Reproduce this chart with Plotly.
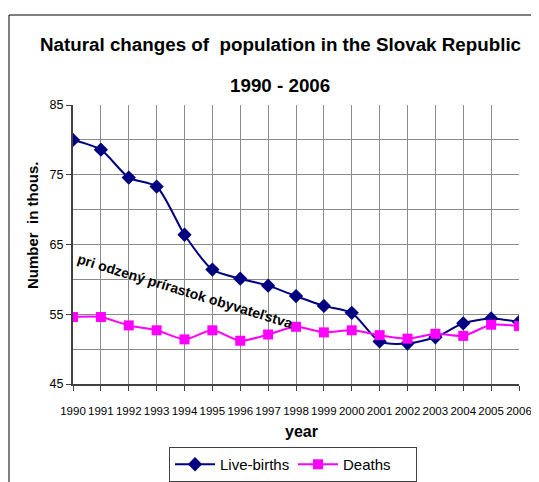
import plotly.graph_objects as go

years = list(range(1990, 2007))
live_births = [80.0, 78.6, 74.6, 73.3, 66.4, 61.4, 60.1, 59.1, 57.6, 56.2, 55.2, 51.1, 50.8, 51.7, 53.7, 54.4, 53.9]
deaths = [54.6, 54.6, 53.4, 52.7, 51.4, 52.7, 51.2, 52.1, 53.2, 52.4, 52.7, 52.0, 51.5, 52.2, 51.9, 53.5, 53.3]
y_ticks = [45, 55, 65, 75, 85]

OFF = 8  # page body margin
W, H = 539 - OFF, 482 - OFF
ML, MT = 73 - OFF, 105 - OFF
MR = W - (519 - OFF)
MB = H - (384 - OFF)
PW, PH = W - ML - MR, H - MT - MB

def px_x(p):
    return (p - OFF - ML) / PW

def px_y(p):
    return (H - MB - (p - OFF)) / PH

FONT = "Liberation Sans, Arial, sans-serif"

fig = go.Figure()
fig.add_trace(go.Scatter(
    x=years, y=live_births, name="Live-births", mode="lines+markers",
    line=dict(color="#000080", width=2, shape="spline", smoothing=0.7),
    marker=dict(symbol="diamond", size=11, color="#000080"),
))
fig.add_trace(go.Scatter(
    x=years, y=deaths, name="Deaths", mode="lines+markers",
    line=dict(color="#FF00FF", width=2, shape="spline", smoothing=0.7),
    marker=dict(symbol="square", size=10, color="#FF00FF"),
))

fig.update_layout(
    width=W, height=H,
    margin=dict(l=ML, r=MR, t=MT, b=MB, autoexpand=False),
    paper_bgcolor="white", plot_bgcolor="white",
    font=dict(family=FONT, color="black", size=12),
    showlegend=True,
    legend=dict(
        orientation="h", x=px_x(293), xanchor="center", y=px_y(447), yanchor="top",
        bordercolor="#404040", borderwidth=1, font=dict(size=15, family=FONT),
        itemwidth=40, tracegroupgap=0, entrywidth=68,
    ),
    xaxis=dict(
        range=[1990, 2006], tickmode="array", tickvals=years,
        ticktext=[str(y) for y in years], tickangle=0,
        showgrid=True, gridcolor="#8a8a8a", gridwidth=1,
        showline=True, linecolor="#404040", linewidth=2,
        ticks="outside", ticklen=5, tickcolor="#404040",
        tickfont=dict(size=11.5, family=FONT), ticklabelstandoff=10,
        zeroline=False, fixedrange=True,
    ),
    yaxis=dict(
        range=[45, 85], tickmode="array", tickvals=y_ticks,
        showgrid=True, gridcolor="#8a8a8a", gridwidth=1,
        minor=dict(dtick=5, tick0=45, showgrid=True, gridcolor="#8a8a8a", gridwidth=1),
        showline=True, linecolor="#404040", linewidth=2,
        ticks="outside", ticklen=5, tickcolor="#404040",
        tickfont=dict(size=12.5, family=FONT),
        zeroline=False, fixedrange=True,
    ),
    annotations=[
        dict(text="<b>Natural changes of  population in the Slovak Republic</b>",
             xref="paper", yref="paper", x=px_x(280), y=px_y(45),
             xanchor="center", yanchor="middle", showarrow=False,
             font=dict(size=18.8, family=FONT)),
        dict(text="<b>1990 - 2006</b>",
             xref="paper", yref="paper", x=px_x(280), y=px_y(86),
             xanchor="center", yanchor="middle", showarrow=False,
             font=dict(size=18.8, family=FONT)),
        dict(text="<b>Number  in thous.</b>",
             xref="paper", yref="paper", x=px_x(32), y=px_y(225),
             xanchor="center", yanchor="middle", showarrow=False, textangle=-90,
             font=dict(size=15, family=FONT)),
        dict(text="<b>year</b>",
             xref="paper", yref="paper", x=px_x(301), y=px_y(431),
             xanchor="center", yanchor="middle", showarrow=False,
             font=dict(size=16, family=FONT)),
        dict(text="<b>pri odzený prírastok obyvateľstva</b>",
             xref="paper", yref="paper", x=px_x(185), y=px_y(291),
             xanchor="center", yanchor="middle", showarrow=False, textangle=17,
             font=dict(size=14, family=FONT)),
    ],
    shapes=[
        dict(type="rect", xref="paper", yref="paper",
             x0=px_x(9), x1=px_x(560), y0=px_y(500), y1=px_y(15),
             line=dict(color="black", width=1), layer="below"),
    ],
)

fig.write_html("out.html")
